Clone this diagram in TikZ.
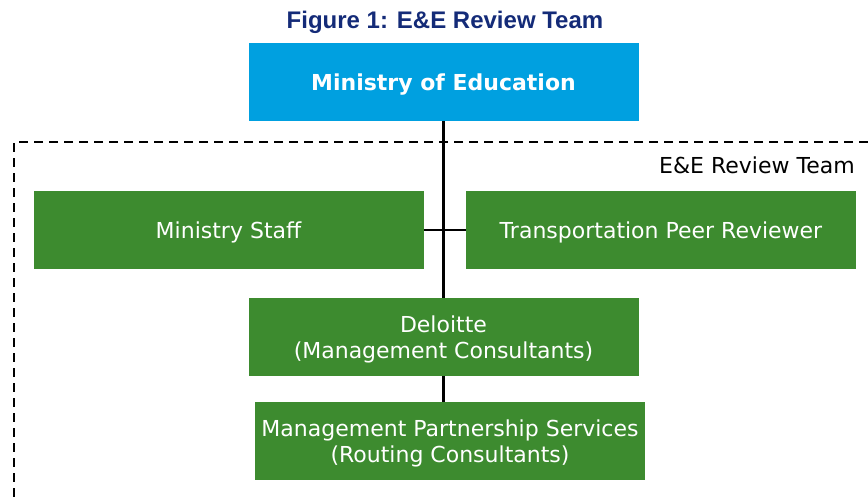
\documentclass[tikz,border=0pt]{standalone}
\usepackage{fontspec}
\setmainfont{DejaVu Sans}
\newfontfamily\titlefont{Liberation Sans}
\definecolor{navy}{HTML}{142B78}
\definecolor{sky}{HTML}{00A0E0}
\definecolor{leaf}{HTML}{3D8B2F}

\begin{document}
\begin{tikzpicture}[x=0.75pt,y=-0.75pt,
	unit/.style={fill=leaf,text=white,minimum width=292.5pt,minimum height=58.5pt,inner sep=0pt,text depth=0pt,align=center,font=\fontsize{16.5}{20}\selectfont},
	link/.style={line width=1.6pt}]
		\useasboundingbox (0,0) rectangle (868,500);% page size
		\node[font=\titlefont\bfseries\fontsize{18}{21}\selectfont,text=navy] (title) at (445,22) {Figure 1: E\&E Review Team};
		\node[unit,fill=sky,font=\bfseries\fontsize{16.5}{20}\selectfont] (moe) at (443.5,82) {Ministry of Education};
		\draw[link,dash pattern=on 6.75pt off 4.5pt] (868,142) -- (14,142) -- (14,500);% review team frame
		\node[anchor=east,font=\fontsize{16.5}{20}\selectfont,inner sep=0pt] (team) at (855,165) {E\&E Review Team};
		\node[unit] (staff) at (228.5,230) {Ministry Staff};
		\node[unit] (peer) at (661,230) {Transportation Peer Reviewer};
		\node[unit] (deloitte) at (443.5,337) {Deloitte\\(Management Consultants)};
		\node[unit] (mps) at (450,441) {Management Partnership Services\\(Routing Consultants)};
		\draw[link] (moe.south) -- (deloitte.north);
		\draw[link] (staff.east) -- (peer.west);
		\draw[link] (deloitte.south) -- (deloitte.south |- mps.north);
	\end{tikzpicture}
\end{document}
